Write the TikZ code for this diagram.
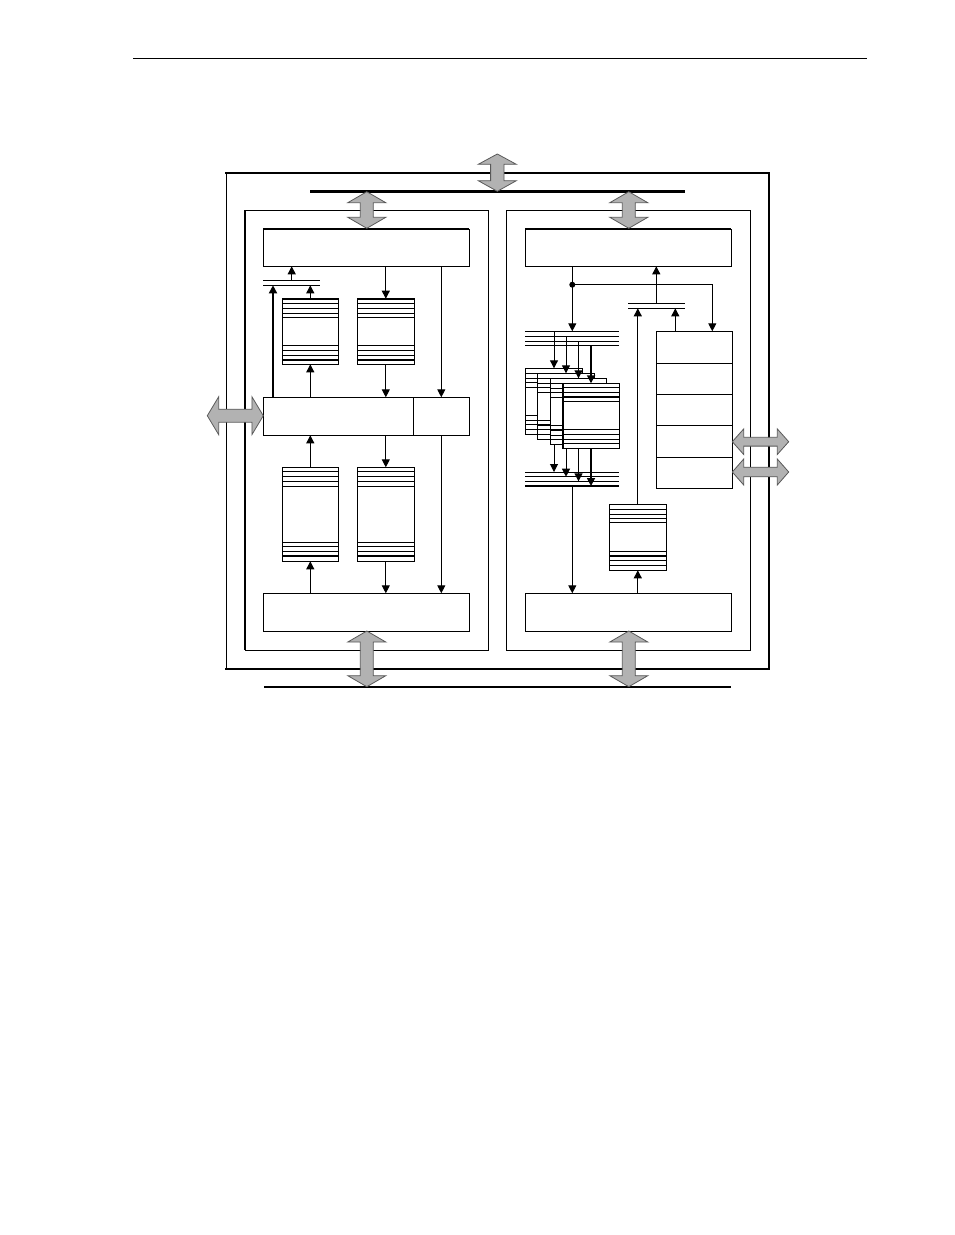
\documentclass[tikz,border=0pt]{standalone}
\usetikzlibrary{arrows.meta}
\tikzset{
  thin line/.style={line width=1pt,draw=black},
  thick line/.style={line width=2pt,draw=black},
  bus line/.style={line width=2.4pt,draw=black},
  block/.style={thin line,fill=white,anchor=north west,inner sep=0pt,outer sep=0pt},
  conn/.style={thin line,-{Triangle[width=8pt,length=8pt]}},
  thickconn/.style={line width=1.7pt,draw=black,-{Triangle[width=8pt,length=8pt]}},
  grey arrow/.style={fill=black!30,draw=black!65,line width=0.8pt,line join=miter},
}
% \blk{name}{x1}{y1}{x2}{y2}
\newcommand{\blk}[5]{%
  \pgfmathsetlengthmacro{\blkw}{#4-#2}\pgfmathsetlengthmacro{\blkh}{#5-#3}%
  \node[block,minimum width=\blkw,minimum height=\blkh] (#1) at (#2,#3) {};}
% \rows{style}{node}{y list}
\newcommand{\rows}[3]{\foreach \yy in {#3}{\draw[#1] (#2.west |- 0,\yy) -- (#2.east |- 0,\yy);}}
\newcommand{\vdbl}[3]{% cx, top tip, bottom tip
  \draw[grey arrow] (#1,#2) -- ++(19,11) -- ++(-12.5,0) -- (#1+6.5,#3-11) -- ++(12.5,0)
    -- (#1,#3) -- (#1-19,#3-11) -- ++(12.5,0) -- (#1-6.5,#2+11) -- ++(-12.5,0) -- cycle;}
% \hdbl{left tip}{right tip}{cy}{head half height}{waist half height}
\newcommand{\hdbl}[5]{%
  \draw[grey arrow] (#1,#3) -- (#1+11.4,#3-#4) -- (#1+11.4,#3-#5) -- (#2-11.4,#3-#5) -- (#2-11.4,#3-#4)
    -- (#2,#3) -- (#2-11.4,#3+#4) -- (#2-11.4,#3+#5) -- (#1+11.4,#3+#5) -- (#1+11.4,#3+#4) -- cycle;}
\begin{document}
\begin{tikzpicture}[x=1pt,y=-1pt]
\useasboundingbox (0,0) rectangle (954,1235);
\fill[white] (0,0) rectangle (954,1235);
% page rule
\coordinate (ruleL) at (133,58); \coordinate (ruleR) at (867,58);
\draw[thin line] (ruleL) -- (ruleR);
% outer frame
\blk{outer}{226.3}{173}{769}{669}
\draw[thick line,line cap=rect] (outer.north west) -- (outer.north east) -- (outer.south east) -- (outer.south west);
% buses
\coordinate (sysL) at (310,191.3); \coordinate (sysR) at (685,191.3);
\draw[bus line] (sysL) -- (sysR);
\coordinate (memL) at (264,687); \coordinate (memR) at (731,687);
\draw[thick line] (memL) -- (memR);
% left and right blocks
\blk{lblock}{245}{210.3}{488.3}{650.3}
\draw[thick line] (lblock.north west) -- (lblock.south west);
\blk{rblock}{506.3}{210.3}{750.3}{650.3}
% left block boxes
\blk{ltop}{263.3}{229}{469.3}{266.3}
\draw[thick line] (ltop.north west) -- (ltop.north east);
\blk{lbot}{263.3}{593.3}{469.3}{631.3}
\blk{lmid}{263.3}{397.3}{413.3}{435.3}
\blk{lmidr}{413.3}{397.3}{469.3}{435.3}
% left registers
\blk{ra}{282.3}{298.7}{338.3}{364.3}
\blk{rb}{357.3}{298.7}{414.3}{364.3}
\foreach \n in {ra,rb}{
  \rows{thin line}{\n}{303.5,308.3,313,317.3,345.2,350.3,355}
  \rows{thick line}{\n}{298.9}
  \rows{line width=1.5pt}{\n}{360}
}
\blk{rc}{282.3}{467.3}{338.3}{561.3}
\blk{rd}{357.3}{467.3}{414.3}{561.3}
\foreach \n in {rc,rd}{
  \rows{thin line}{\n}{471.7,476.3,481.3,486.3,542.3,551.3}
  \rows{line width=1.5pt}{\n}{546.7,556}
}
% left double bus
\coordinate (lbA) at (263,280.3); \coordinate (lbAr) at (320,280.3);
\coordinate (lbB) at (263,285.3); \coordinate (lbBr) at (320,285.3);
\draw[thin line] (lbA) -- (lbAr);
\draw[thin line] (lbB) -- (lbBr);
\coordinate (lbM) at (291.7,280.3);
\coordinate (lbT) at (273,285.3);
% left connectors
\draw[conn] (lbM) -- (lbM |- ltop.south);
\draw[conn] (ra.north) -- (ra.north |- lbB);
\draw[thickconn] (lbT |- lmid.north) -- (lbT);
\draw[conn] (ltop.south -| rb.north) -- (rb.north);
\draw[conn] (ltop.south -| lmidr.north) -- (lmidr.north);
\draw[conn] (rb.south) -- (rb.south |- lmid.north);
\draw[conn] (ra.south |- lmid.north) -- (ra.south);
\draw[conn] (rc.north) -- (rc.north |- lmid.south);
\draw[conn] (lmid.south -| rd.north) -- (rd.north);
\draw[conn] (lmidr.south) -- (lmidr.south |- lbot.north);
\draw[conn] (rd.south) -- (rd.south |- lbot.north);
\draw[conn] (rc.south |- lbot.north) -- (rc.south);
% right block boxes
\blk{rtop}{525.3}{229}{731.3}{266.3}
\draw[thick line] (rtop.north west) -- (rtop.north east);
\blk{rbot}{525.3}{593.3}{731.5}{631.3}
% stack
\blk{st}{656.3}{331.3}{732.7}{488.3}
\rows{thin line}{st}{363.3,394.3,425.3,457}
% upper and lower four-line buses
\coordinate (ubA) at (525.3,331.3); \coordinate (ubAr) at (619.3,331.3);
\coordinate (ubB) at (525.3,336.3); \coordinate (ubBr) at (619.3,336.3);
\coordinate (ubC) at (525.3,341); \coordinate (ubCr) at (619.3,341);
\coordinate (ubD) at (525.3,345.3); \coordinate (ubDr) at (619.3,345.3);
\foreach \a/\b in {ubA/ubAr,ubB/ubBr,ubC/ubCr,ubD/ubDr}{\draw[thin line] (\a) -- (\b);}
\coordinate (lbuA) at (525.3,472); \coordinate (lbuAr) at (619.3,472);
\coordinate (lbuB) at (525.3,476.7); \coordinate (lbuBr) at (619.3,476.7);
\coordinate (lbuC) at (525.3,481.3); \coordinate (lbuCr) at (619.3,481.3);
\coordinate (lbuD) at (525.3,486); \coordinate (lbuDr) at (619.3,486);
\foreach \a/\b in {lbuA/lbuAr,lbuB/lbuBr,lbuC/lbuCr}{\draw[thin line] (\a) -- (\b);}
\draw[thick line] (lbuD) -- (lbuDr);
% lower bank connectors start under the banks
\coordinate (b1c) at (554,434.3); \coordinate (b2c) at (566,439.7);
\coordinate (b3c) at (578.5,444.7); \coordinate (b4c) at (591,448.3);
\draw[conn] (b1c) -- (b1c |- lbuA);
\draw[conn] (b2c) -- (b2c |- lbuB);
\draw[conn] (b3c) -- (b3c |- lbuC);
\draw[thickconn] (b4c) -- (b4c |- lbuD);
% memory banks
\blk{ba}{525.3}{368.3}{582.7}{434.3}
\rows{thin line}{ba}{373.3,378,382.6,387.3,415.3,420,429.3}
\rows{line width=1.5pt}{ba}{424.7}
\blk{bb}{537.3}{373.3}{594.7}{439.7}
\rows{thin line}{bb}{378.3,383,387.6,392.3,420.3,429.7,434.5}
\rows{line width=1.5pt}{bb}{425}
\blk{bc}{550.3}{378.3}{606.7}{444.7}
\rows{thin line}{bc}{383.3,388,392.6,397.3,425.3,435,439.7}
\rows{line width=1.5pt}{bc}{430}
\blk{bd}{562.7}{383.3}{619.3}{448.3}
\rows{thin line}{bd}{387.3,392,401.3,429.3,434.3,439,443.7}
\rows{line width=1.7pt}{bd}{396.7}
\draw[thick line] (bd.north west) -- (bd.south west);
% upper bank connectors
\draw[conn] (ubA -| ba.north) -- (ba.north);
\draw[conn] (ubB -| bb.north) -- (bb.north);
\draw[conn] (ubC -| bc.north) -- (bc.north);
\draw[thickconn] (ubD -| bd.north) -- (bd.north);
% register by the right bottom
\blk{re}{609.3}{504.3}{666.3}{570.3}
\rows{thin line}{re}{509.3,514,518.7,522.7,551.3,560.7,565.3}
\rows{line width=1.5pt}{re}{556}
% right double bus
\coordinate (rbA) at (628,303.3); \coordinate (rbAr) at (685,303.3);
\coordinate (rbB) at (628,308.3); \coordinate (rbBr) at (685,308.3);
\draw[thin line] (rbA) -- (rbAr);
\draw[thin line] (rbB) -- (rbBr);
% right connectors
\coordinate (dot) at (572.3,284.7);
\coordinate (stin) at (712.3,331.3);
\coordinate (stout) at (675.3,331.3);
\coordinate (rbM) at (656.3,303.3);
\draw[conn] (dot |- rtop.south) -- (dot |- ubA);
\fill (dot) circle (3pt);
\draw[conn] (dot) -| (stin);
\draw[conn] (rbM) -- (rbM |- rtop.south);
\draw[conn] (stout) -- (stout |- rbB);
\draw[conn] (re.north) -- (re.north |- rbB);
\draw[conn] (dot |- lbuD) -- (dot |- rbot.north);
\draw[conn] (re.south |- rbot.north) -- (re.south);
% grey double arrows
\draw[grey arrow] (497.3,154) -- ++(19,10.3) -- ++(-12.3,0) -- (504,180.7) -- ++(12.3,0) -- (497.3,191.3)
  -- (478.3,180.7) -- ++(12.3,0) -- (490.6,164.3) -- ++(-12.3,0) -- cycle;
\vdbl{366.8}{191.7}{228.3}
\vdbl{628.8}{191.7}{228.3}
\vdbl{366.8}{631}{686.7}
\vdbl{628.8}{631}{686.7}
\hdbl{207.3}{263.3}{415.7}{19}{6.5}
\hdbl{732.3}{788.7}{441.7}{12.8}{4.4}
\hdbl{732.3}{788.7}{472}{13}{4.8}
\end{tikzpicture}
\end{document}
